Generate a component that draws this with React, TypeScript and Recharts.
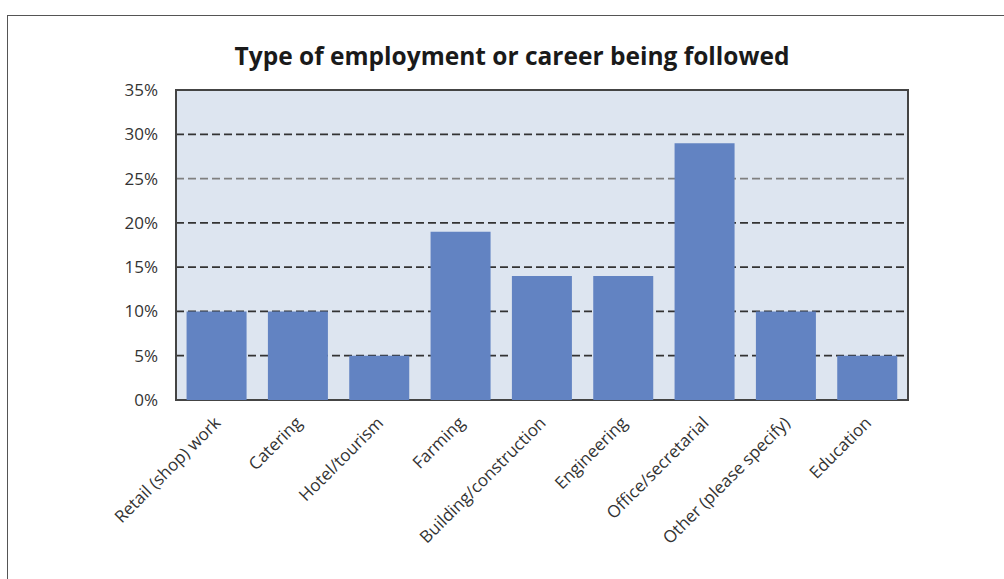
import * as React from 'react';
import { Bar, BarChart, CartesianGrid, ReferenceArea, XAxis, YAxis } from 'recharts';

const CATEGORIES = [
  'Retail (shop) work',
  'Catering',
  'Hotel/tourism',
  'Farming',
  'Building/construction',
  'Engineering',
  'Office/secretarial',
  'Other (please specify)',
  'Education',
];
const PERCENTS = [10, 10, 5, 19, 14, 14, 29, 10, 5];
const Y_TICKS = [0, 5, 10, 15, 20, 25, 30, 35];
const GRID_VALUES = [5, 10, 15, 20, 25, 30];

const FONT = '"Open Sans", "Noto Sans", sans-serif';
const TEXT_COLOR = '#333333';
const BORDER = '#444444';

const data = CATEGORIES.map((name, i) => ({ name, value: PERCENTS[i] }));

function CategoryTick({ x, y, payload }: { x: number; y: number; payload: { value: string } }) {
  return (
    <g transform={`translate(${x + 5},${y + 16})`}>
      <text
        x={0}
        y={0}
        textAnchor="end"
        transform="rotate(-45)"
        fill={TEXT_COLOR}
        fontSize={17}
        fontFamily={FONT}
      >
        {payload.value}
      </text>
    </g>
  );
}

// the 25% gridline is a lighter grey than the others in the original
function GridLine(props: any) {
  const { x1, x2, y1, y2, index } = props;
  const light = GRID_VALUES[index] === 25;
  return (
    <line
      x1={x1}
      x2={x2}
      y1={y1}
      y2={y2}
      stroke={light ? '#808080' : '#333333'}
      strokeWidth={1.8}
      strokeDasharray="8 4"
      fill="none"
    />
  );
}

export default function App(): React.JSX.Element {
  return (
    <div style={{ position: 'absolute', left: 0, top: 0, width: 1004, height: 579, background: '#fff' }}>
      {/* frame: only top and left edges are visible in the crop */}
      <div
        style={{
          position: 'absolute',
          left: 7,
          top: 15,
          width: 1004,
          height: 579,
          borderTop: '1.5px solid #555',
          borderLeft: '1.5px solid #555',
        }}
      />
      <div
        style={{
          position: 'absolute',
          left: 0,
          width: 1024,
          top: 39,
          textAlign: 'center',
          fontFamily: FONT,
          fontWeight: 700,
          fontSize: 24.5,
          color: '#1a1a1a',
        }}
      >
        Type of employment or career being followed
      </div>
      <div style={{ position: 'absolute', left: 0, top: 0 }}>
        <BarChart
          width={1004}
          height={579}
          data={data}
          margin={{ top: 90, right: 96, left: 0, bottom: 9 }}
          barCategoryGap="13%"
        >
          <CartesianGrid
            fill="#dde5f0"
            vertical={false}
            horizontal={GridLine}
            horizontalValues={GRID_VALUES}
          />
          <XAxis
            dataKey="name"
            interval={0}
            height={170}
            tickLine={false}
            axisLine={false}
            tick={CategoryTick as any}
          />
          <YAxis
            domain={[0, 35]}
            ticks={Y_TICKS}
            width={176}
            tickLine={false}
            tickSize={0}
            tickMargin={18}
            axisLine={false}
            tickFormatter={(v) => `${v}%`}
            tick={{ fill: TEXT_COLOR, fontSize: 17, fontFamily: FONT }}
          />
          <Bar dataKey="value" fill="#6283c2" isAnimationActive={false} />
          {/* plot-area frame */}
          <ReferenceArea
            x1={CATEGORIES[0]}
            x2={CATEGORIES[CATEGORIES.length - 1]}
            y1={0}
            y2={35}
            fill="none"
            fillOpacity={0}
            stroke={BORDER}
            strokeWidth={2}
            ifOverflow="visible"
          />
        </BarChart>
      </div>
    </div>
  );
}
